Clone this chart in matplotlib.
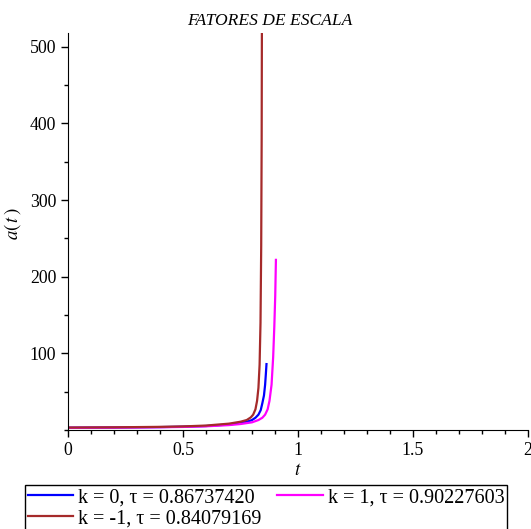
import numpy as np
import matplotlib as mpl
mpl.use('Agg')
import matplotlib.pyplot as plt
from matplotlib.ticker import MultipleLocator

plt.rcParams['font.family'] = ['Liberation Serif', 'DejaVu Serif']
plt.rcParams['mathtext.fontset'] = 'stix'

# values
t_k0 = [0.0, 0.2, 0.4, 0.5, 0.6, 0.7, 0.75, 0.78, 0.80, 0.815, 0.828, 0.838, 0.845, 0.852, 0.857, 0.860, 0.863]
a_k0 = [3.0, 3.3, 3.8, 4.3, 5.2, 7.2, 9.0, 11.0, 13.0, 16.0, 20.0, 26.0, 35.0, 45.0, 59.0, 72.0, 86.0]

t_k1 = [0.0, 0.2, 0.4, 0.5, 0.6, 0.7, 0.75, 0.8, 0.828, 0.845, 0.857, 0.868, 0.876, 0.885, 0.892, 0.897, 0.901, 0.904]
a_k1 = [2.8, 3.1, 3.6, 4.0, 4.8, 6.4, 7.8, 10.0, 13.0, 16.0, 20.0, 27.0, 38.0, 59.0, 95.0, 135.0, 175.0, 222.0]

t_km1 = [0.0, 0.2, 0.4, 0.5, 0.6, 0.7, 0.75, 0.777, 0.795, 0.805, 0.815, 0.822, 0.828, 0.833, 0.837, 0.840, 0.842, 0.843]
a_km1 = [3.2, 3.5, 4.1, 4.7, 5.8, 8.3, 10.8, 13.0, 16.5, 20.0, 27.0, 38.0, 55.0, 85.0, 140.0, 240.0, 380.0, 518.0]

labels = ['k = 0, \u03c4 = 0.86737420', 'k = 1, \u03c4 = 0.90227603', 'k = -1, \u03c4 = 0.84079169']
colors = ['#0000FF', '#FF00FF', '#A52A2A']

fig = plt.figure(figsize=(5.31, 5.29), dpi=100)
ax = fig.add_axes([68/531, 1 - 430/529, 460/531, 397/529])

l0, = ax.plot(t_k0, a_k0, color=colors[0], lw=1.6, label=labels[0])
l1, = ax.plot(t_k1, a_k1, color=colors[1], lw=1.6, label=labels[1])
l2, = ax.plot(t_km1, a_km1, color=colors[2], lw=1.6, label=labels[2])

ax.set_xlim(0, 2)
ax.set_ylim(0, 518)
ax.xaxis.set_minor_locator(MultipleLocator(0.1))
ax.yaxis.set_minor_locator(MultipleLocator(50))
ax.set_xticks([0, 0.5, 1, 1.5, 2])
ax.set_xticklabels(['0', '0.5', '1', '1.5', '2'])
ax.set_yticks([100, 200, 300, 400, 500])
for s in ['top', 'right']:
    ax.spines[s].set_visible(False)
ax.tick_params(which='both', direction='out', labelsize=12.8, width=1)
ax.tick_params(which='major', length=5)
ax.tick_params(which='minor', length=3)

fig.text(270/531, 1 - 21/529, 'FATORES DE ESCALA', fontsize=12.6, style='italic',
         ha='center', va='center')
ax.set_xlabel('$t$', fontsize=13.5, labelpad=2)
ax.set_ylabel('$a(\\,t\\,)$', fontsize=13.5)
ax.yaxis.set_label_coords(-0.098, 0.52)

leg = fig.legend([l0, l2, l1], [labels[0], labels[2], labels[1]], ncol=2,
                 loc='upper left', bbox_to_anchor=(24.5/531, 1 - 485/529),
                 fontsize=14.5, frameon=True, fancybox=False,
                 edgecolor='black', framealpha=1, handlelength=2.25,
                 borderpad=0.15, labelspacing=0.1, columnspacing=0.8,
                 handletextpad=0.25, borderaxespad=0)
leg.get_frame().set_linewidth(1.0)

fig.savefig('out.png', dpi=100)
